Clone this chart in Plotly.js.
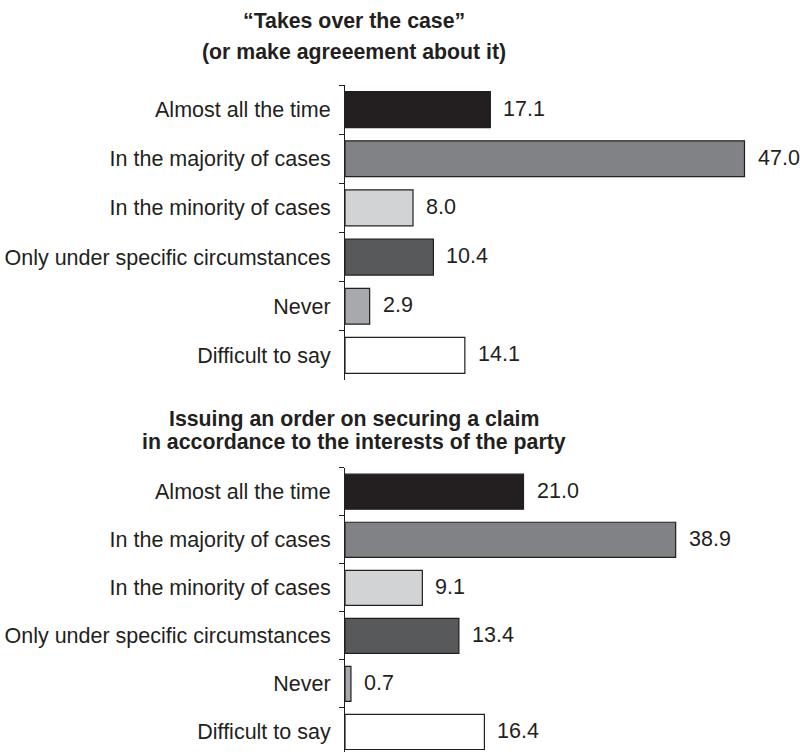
<!DOCTYPE html>
<html>
<head>
<meta charset="utf-8">
<script src="https://cdn.plot.ly/plotly-3.0.1.min.js"></script>
<style>html,body{margin:0;padding:0;background:#fff;}#chart{width:800px;height:752px;}</style>
</head>
<body>
<div id="chart"></div>
<script>
// ---- data ----
var categories = ["Almost all the time", "In the majority of cases", "In the minority of cases",
                  "Only under specific circumstances", "Never", "Difficult to say"];
var takesOverValues = [17.1, 47.0, 8.0, 10.4, 2.9, 14.1];
var securingValues = [21.0, 38.9, 9.1, 13.4, 0.7, 16.4];
var barColors = ["#231f20", "#808285", "#d1d3d4", "#58595b", "#a7a9ac", "#ffffff"];
var titleTop = ["“Takes over the case”", "(or make agreeement about it)"];
var titleBottom = ["Issuing an order on securing a claim", "in accordance to the interests of the party"];

// ---- layout helpers ----
var W = 800, H = 752, L = 345, R = 0;
var plotW = W - L - R;
var xMax = plotW / 8.5;
function py(px) { return 1 - px / H; }
function pxX(px) { return (px - L) / plotW; }
var FONT = "Liberation Sans, Arial, sans-serif";
var INK = "#231f20";

function barTrace(vals, xa, ya) {
  return {
    type: "bar", orientation: "h",
    x: vals, y: categories,
    xaxis: xa, yaxis: ya,
    width: 0.73,
    marker: { color: barColors, line: { color: INK, width: 1.2 } },
    hoverinfo: "skip", showlegend: false
  };
}

var annotations = [];
function addValueLabels(vals, xref, yref) {
  vals.forEach(function (v, i) {
    annotations.push({
      x: v, y: categories[i], xref: xref, yref: yref,
      text: v.toFixed(1), showarrow: false,
      xanchor: "left", yanchor: "middle", xshift: 11, yshift: 1,
      font: { family: FONT, size: 21.5, color: INK }
    });
  });
}
addValueLabels(takesOverValues, "x", "y");
addValueLabels(securingValues, "x2", "y2");

function addTitle(text, yPx) {
  annotations.push({
    x: pxX(354), y: py(yPx), xref: "paper", yref: "paper",
    text: "<b>" + text + "</b>", showarrow: false,
    xanchor: "center", yanchor: "middle",
    font: { family: FONT, size: 21.3, color: INK }
  });
}
addTitle(titleTop[0], 21);
addTitle(titleTop[1], 52);
addTitle(titleBottom[0], 419);
addTitle(titleBottom[1], 442);

function yAxis(domain, range) {
  return {
    domain: domain, range: range, type: "category",
    showline: true, linecolor: INK, linewidth: 1,
    ticks: "outside", ticklen: 5, tickcolor: INK, tickwidth: 1,
    tickson: "boundaries", ticklabelstandoff: 9,
    showgrid: false, zeroline: false,
    tickfont: { family: FONT, size: 21.5, color: INK },
    fixedrange: true
  };
}
function xAxis(anchor) {
  return { range: [0, xMax], visible: false, anchor: anchor, fixedrange: true };
}

var layout = {
  width: W, height: H,
  margin: { l: L, r: R, t: 0, b: 0 },
  paper_bgcolor: "#ffffff", plot_bgcolor: "rgba(0,0,0,0)",
  font: { family: FONT, size: 21, color: INK },
  xaxis: xAxis("y"),
  yaxis: yAxis([py(380), py(85)], [5.5, -0.5]),
  xaxis2: xAxis("y2"),
  yaxis2: yAxis([0, py(467.7)], [5.417, -0.5]),
  annotations: annotations,
  showlegend: false
};

Plotly.newPlot("chart", [barTrace(takesOverValues, "x", "y"), barTrace(securingValues, "x2", "y2")], layout,
  { displayModeBar: false, staticPlot: true });
</script>
</body>
</html>
